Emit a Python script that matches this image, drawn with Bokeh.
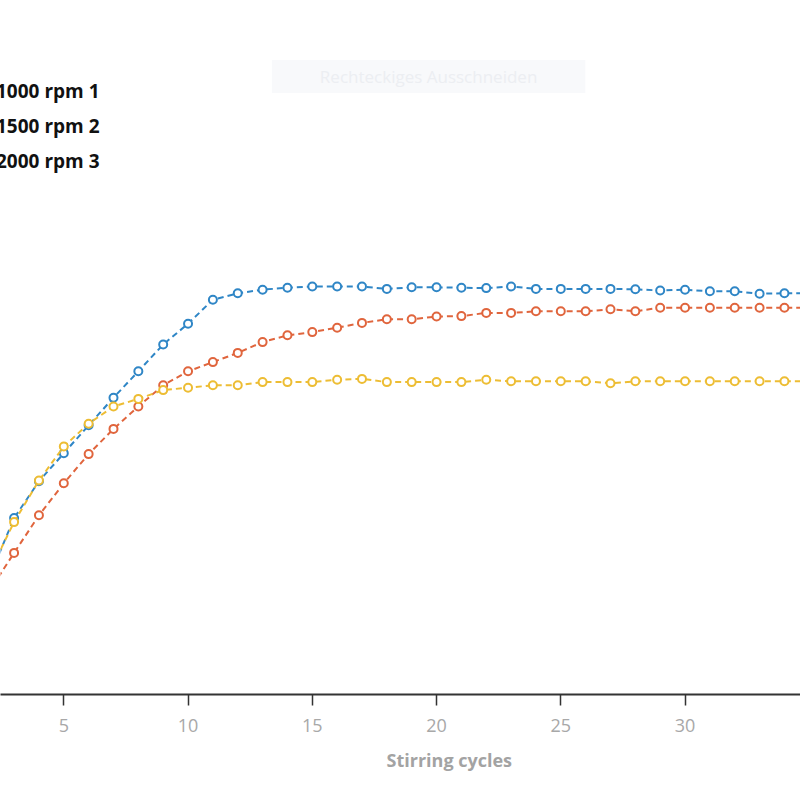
from bokeh.plotting import figure
from bokeh.models import Range1d, Legend, LegendItem, Label, FixedTicker, Title
from bokeh.embed import file_html
from bokeh.resources import INLINE

# ---- data ----
cycles = list(range(0, 36))
series_names = ["1000 rpm 1", "1500 rpm 2", "2000 rpm 3"]
rpm1000 = [3.0, 15.5, 28.8, 43.6, 52.8, 59.8, 66.8, 73.7, 80.3, 87.0, 92.2, 98.2,
           99.8, 100.7, 101.2, 101.5, 101.5, 101.5, 100.9, 101.3, 101.3, 101.2, 101.1, 101.5,
           100.9, 100.9, 100.9, 100.9, 100.8, 100.5, 100.7, 100.3, 100.3, 99.7, 99.8, 99.8]
rpm1500 = [5.5, 15.5, 25.3, 34.9, 44.3, 52.3, 59.6, 65.9, 71.5, 76.8, 80.3, 82.6,
           84.9, 87.6, 89.3, 90.1, 91.2, 92.4, 93.3, 93.3, 94.0, 94.1, 94.9, 94.9,
           95.3, 95.3, 95.3, 95.8, 95.3, 96.2, 96.2, 96.2, 96.2, 96.2, 96.2, 96.2]
rpm2000 = [4.3, 16.8, 30.0, 42.6, 53.0, 61.5, 67.2, 71.5, 73.4, 75.6, 76.2, 76.8,
           76.8, 77.6, 77.6, 77.6, 78.2, 78.4, 77.6, 77.6, 77.6, 77.6, 78.2, 77.8,
           77.8, 77.8, 77.8, 77.3, 77.8, 77.8, 77.8, 77.8, 77.8, 77.8, 77.8, 77.8]
x_ticks = [5, 10, 15, 20, 25, 30, 35]
x_title = "Stirring cycles"
colors = ["#2f86c6", "#e0653d", "#edbd34"]

p = figure(width=800, height=800, output_backend="svg", toolbar_location=None,
           x_range=Range1d(2.453, 34.646), y_range=Range1d(-0.5, 173),
           min_border_left=0, min_border_right=0, min_border_top=0, min_border_bottom=106)
p.outline_line_color = None
p.grid.visible = False
p.yaxis.visible = False
p.background_fill_color = "white"
p.border_fill_color = "white"

ax = p.xaxis[0]
ax.ticker = FixedTicker(ticks=x_ticks)
ax.axis_line_color = "#333333"
ax.axis_line_width = 2
ax.major_tick_line_color = "#333333"
ax.major_tick_line_width = 1.5
ax.major_tick_out = 11
ax.major_tick_in = 0
ax.minor_tick_line_color = None
ax.major_label_text_font = "Open Sans"
ax.major_label_text_font_size = "18px"
ax.major_label_text_color = "#a8a8a8"
ax.major_label_standoff = 13

items = []
for name, ys, c in zip(series_names, [rpm1000, rpm1500, rpm2000], colors):
    ln = p.line(cycles, ys, line_color=c, line_width=2, line_dash="6 4")
    sc = p.scatter(cycles, ys, marker="circle", size=8, line_color=c, line_width=2,
                   fill_color="white")
    items.append(LegendItem(label=name, renderers=[ln, sc]))

legend = Legend(items=items, location=(-29, 516), orientation="vertical",
                padding=0, margin=0, spacing=0, glyph_width=20, glyph_height=35,
                label_height=35, label_standoff=5,
                label_text_font="Open Sans", label_text_font_style="bold",
                label_text_font_size="19px", label_text_color="#111111",
                border_line_alpha=0, background_fill_alpha=0)
p.add_layout(legend, "center")

p.add_layout(Title(text=x_title, align="left", offset=386, standoff=22,
                   text_font="Open Sans", text_font_style="bold",
                   text_font_size="18px", text_color="#a3a3a3"), "below")

p.add_layout(Label(x=19.68, y=154, text="Rechteckiges Ausschneiden", text_align="center",
                   text_baseline="middle", text_font="Open Sans", text_font_size="17px",
                   text_color="#eceef2", background_fill_color="#f8f9fb",
                   padding=dict(x=48, y=5)))

open("out.html", "w").write(file_html(p, INLINE))
